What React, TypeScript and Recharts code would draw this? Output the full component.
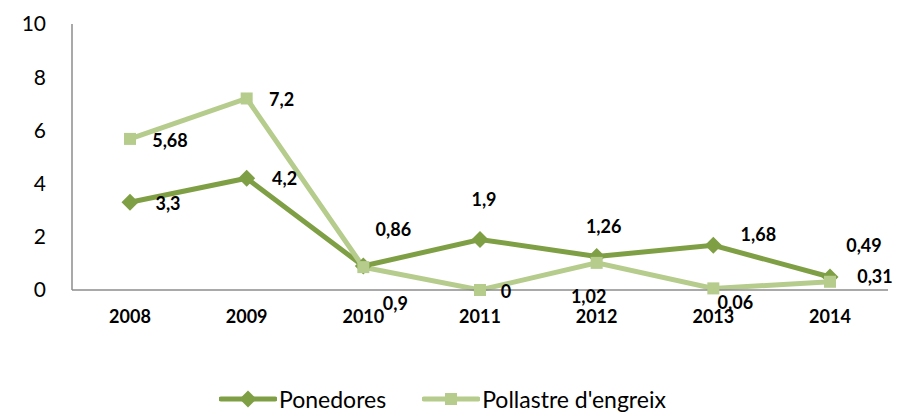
import React from 'react';
import { LineChart, Line, XAxis, YAxis, Legend, LabelList } from 'recharts';

const years = ['2008', '2009', '2010', '2011', '2012', '2013', '2014'];
const ponedores = [3.3, 4.2, 0.9, 1.9, 1.26, 1.68, 0.49];
const pollastre = [5.68, 7.2, 0.86, 0, 1.02, 0.06, 0.31];
const yTicks = [0, 2, 4, 6, 8, 10];

const data = years.map((y, i) => ({ year: y, ponedores: ponedores[i], pollastre: pollastre[i] }));

const DARK = '#7f9f45';
const LIGHT = '#b5cc8d';
const FONT = 'Lato, "Open Sans", sans-serif';

// label placement offsets (center of text relative to point)
const ponOffsets = [[38, 1], [38, 0], [32, 37], [4, -40], [7, -30], [45, -11], [34, -32]];
const polOffsets = [[40, 1], [35, 1], [30, -38], [26, 1], [-8, 33], [22, 14], [45, -6]];

const fmt = (v: number) => String(v).replace('.', ',');

const makeLabel = (offsets: number[][]) => (props: any) => {
  const { x, y, index, value } = props;
  const [dx, dy] = offsets[index];
  return (
    <text x={x + dx} y={y + dy} textAnchor="middle" dominantBaseline="central"
      fontFamily={FONT} fontWeight="bold" fontSize={18} fill="#000">
      {fmt(value)}
    </text>
  );
};

const Diamond = (props: any) => {
  const { cx, cy, index } = props;
  const r = 8.5;
  return <polygon key={`d${index}`} points={`${cx},${cy - r} ${cx + r},${cy} ${cx},${cy + r} ${cx - r},${cy}`} fill={DARK} />;
};

const Square = (props: any) => {
  const { cx, cy, index } = props;
  const s = 12;
  return <rect key={`s${index}`} x={cx - s / 2} y={cy - s / 2} width={s} height={s} fill={LIGHT} />;
};

const LegendContent = () => (
  <div style={{ display: 'flex', alignItems: 'center', fontFamily: FONT, fontSize: 23, color: '#000', marginLeft: 219, height: 30 }}>
    <svg width={58} height={20} style={{ marginRight: 2 }}>
      <line x1={2} y1={10} x2={56} y2={10} stroke={DARK} strokeWidth={5} strokeLinecap="round" />
      <polygon points="29,1.5 37.5,10 29,18.5 20.5,10" fill={DARK} />
    </svg>
    <span>Ponedores</span>
    <svg width={58} height={20} style={{ marginLeft: 36, marginRight: 2 }}>
      <line x1={2} y1={10} x2={56} y2={10} stroke={LIGHT} strokeWidth={5} strokeLinecap="round" />
      <rect x={23} y={4} width={12} height={12} fill={LIGHT} />
    </svg>
    <span>Pollastre d'engreix</span>
  </div>
);

export default function App() {
  return (
    <div style={{ position: 'absolute', left: 0, top: 0, width: 897, height: 412, background: '#fff' }}>
      <LineChart width={897} height={412} data={data} margin={{ top: 24, right: 9, left: 0, bottom: 82 }}>
        <XAxis dataKey="year" height={40} padding={{ left: 58, right: 58 }} axisLine={{ stroke: '#8c8c8c', strokeWidth: 1.5 }} tickLine={false}
          tickMargin={14} tick={{ fontFamily: FONT, fontWeight: 'bold', fontSize: 18, fill: '#000' }} />
        <YAxis domain={[0, 10]} ticks={yTicks} width={72} axisLine={{ stroke: '#8c8c8c', strokeWidth: 1.5 }} tickLine={false}
          tickMargin={20} tick={{ fontFamily: FONT, fontSize: 21, fill: '#000' }} />
        <Legend layout="horizontal" verticalAlign="middle" align="center" content={<LegendContent />}
          wrapperStyle={{ position: 'absolute', top: 384, left: 0, width: 897 }} />
        <Line dataKey="ponedores" name="Ponedores" stroke={DARK} strokeWidth={5} dot={<Diamond />} activeDot={false} isAnimationActive={false}>
          <LabelList dataKey="ponedores" content={makeLabel(ponOffsets)} />
        </Line>
        <Line dataKey="pollastre" name="Pollastre d'engreix" stroke={LIGHT} strokeWidth={5} dot={<Square />} activeDot={false} isAnimationActive={false}>
          <LabelList dataKey="pollastre" content={makeLabel(polOffsets)} />
        </Line>
      </LineChart>
    </div>
  );
}
